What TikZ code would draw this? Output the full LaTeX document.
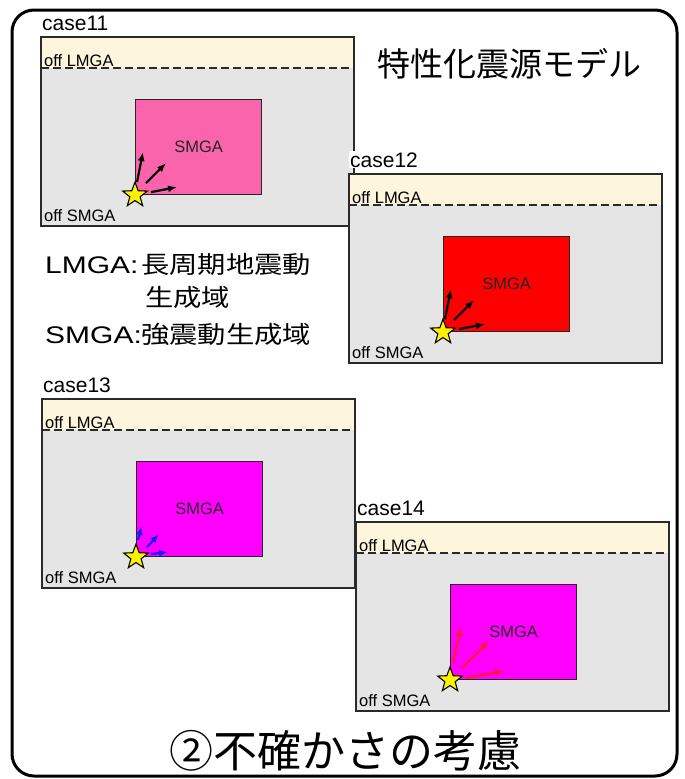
\documentclass[tikz,border=0pt]{standalone}
\usepackage{fontspec}
\setmainfont{Liberation Sans}
\newfontfamily\jpfont{Noto Sans CJK JP}
\newfontfamily\jpwide[FakeStretch=1.18]{Noto Sans CJK JP}
\newfontfamily\latwide[FakeStretch=1.25]{Liberation Sans}
\usetikzlibrary{shapes.geometric,arrows.meta}

\definecolor{panelgray}{HTML}{E5E5E5}
\definecolor{bandcream}{HTML}{FDF6DC}
\definecolor{smgapink}{HTML}{FA64AC}
\definecolor{smgared}{HTML}{FF0000}
\definecolor{smgamag}{HTML}{FF00FF}
\definecolor{edgegray}{HTML}{2A2A2A}
\definecolor{quakeblue}{HTML}{1A1AFF}
\definecolor{quakered}{HTML}{FF1A33}

\tikzset{
  panelbox/.style={fill=panelgray, minimum width=313pt, minimum height=189pt, inner sep=0pt, anchor=north west},
  paneledge/.style={draw=edgegray, line width=2pt},
  dashline/.style={draw=edgegray, line width=1.1pt, dash pattern=on 8pt off 4pt},
  caselabel/.style={anchor=base west, fill=white, inner sep=1pt, font=\fontsize{21}{21}\selectfont},
  offlab/.style={anchor=base west, inner sep=0pt, font=\fontsize{16.5}{16.5}\selectfont},
  smgabox/.style={draw=black!85, line width=1.1pt, minimum width=126pt, minimum height=95pt, inner sep=0pt, anchor=north west, font=\fontsize{16.5}{16.5}\selectfont, text=black!85},
  epistar/.style={star, star points=5, star point ratio=2.4, minimum size=26pt, inner sep=0pt, fill=yellow, draw=black, line width=1.1pt},
  quakearr/.style={line width=2.2pt, -{Latex[length=9pt,width=7pt]}},
  legendlat/.style={anchor=base west, inner sep=0pt, font=\latwide\fontsize{24}{24}\selectfont},
  legendjp/.style={anchor=base west, inner sep=0pt, font=\jpwide\fontsize{24}{24}\selectfont},
}

% #1 id, #2 left, #3 top, #4 label, #5 SMGA fill
\newcommand\casepanel[5]{%
  \node[panelbox] (#1) at (#2,#3) {};
  \fill[bandcream] (#1.north west) rectangle ([yshift=-31pt]#1.north east);
  \draw[dashline] ([yshift=-31pt]#1.north west) -- ([yshift=-31pt]#1.north east);
  \draw[paneledge] (#1.north west) rectangle (#1.south east);
  \node[caselabel] (#1lab) at ([yshift=7pt]#1.north west) {#4};
  \node[offlab] (#1lm) at ([xshift=3pt,yshift=-29pt]#1.north west) {off LMGA};
  \node[offlab] (#1sm) at ([xshift=3pt,yshift=4.5pt]#1.south west) {off SMGA};
  \node[smgabox, fill=#5] (#1s) at ([xshift=94pt,yshift=-62pt]#1.north west) {SMGA};
  \coordinate (#1star) at (#1s.south west);
}
% #1 id, #2 n, #3 colour, #4 #5 start offset, #6 #7 end offset
\newcommand\quakearrow[7]{%
  \coordinate (#1a#2s) at ([shift={(#4,#5)}]#1star);
  \coordinate (#1a#2e) at ([shift={(#6,#7)}]#1star);
  \draw[quakearr,#3] (#1a#2s) -- (#1a#2e);
}
\newcommand\starat[1]{\node[epistar] (#1starnode) at (#1star) {};}

\begin{document}
\begin{tikzpicture}[x=1pt,y=-1pt]
\useasboundingbox (0,0) rectangle (685,779);

% outer frame
\draw[line width=3pt, rounded corners=22pt] (12,10) rectangle (677,776);

% title
\node[anchor=base west, inner sep=0pt, font=\jpfont\fontsize{33}{33}\selectfont] (title) at (377,76) {特性化震源モデル};

% case11
\casepanel{c11}{41}{37}{case11}{smgapink}
\quakearrow{c11}{1}{black}{2}{-13}{8}{-43}
\quakearrow{c11}{2}{black}{11}{-12}{31}{-32}
\quakearrow{c11}{3}{black}{16}{-3}{42}{-8}
\starat{c11}

% case12
\casepanel{c12}{349}{174}{case12}{smgared}
\quakearrow{c12}{1}{black}{2}{-13}{8}{-43}
\quakearrow{c12}{2}{black}{11}{-12}{31}{-32}
\quakearrow{c12}{3}{black}{16}{-3}{42}{-8}
\starat{c12}

% legend
\node[legendlat] (leg1a) at (45,273) {LMGA:};
\node[legendjp] (leg1b) at (141,273) {長周期地震動};
\node[legendjp] (leg2b) at (145,306) {生成域};
\node[legendlat] (leg3a) at (45,343) {SMGA:};
\node[legendjp] (leg3b) at (141,343) {強震動生成域};

% case13
\casepanel{c13}{42}{399}{case13}{smgamag}
\quakearrow{c13}{1}{quakeblue}{2}{-17}{5.5}{-31}
\quakearrow{c13}{2}{quakeblue}{11}{-10}{23}{-23}
\quakearrow{c13}{3}{quakeblue}{15}{-3}{32}{-5}
\starat{c13}

% case14
\casepanel{c14}{356}{522}{case14}{smgamag}
\quakearrow{c14}{1}{quakered}{3}{-17}{11}{-53}
\quakearrow{c14}{2}{quakered}{12}{-12}{39}{-39}
\quakearrow{c14}{3}{quakered}{15}{-2}{54}{-9}
\starat{c14}

% bottom title
\node[anchor=base, inner sep=0pt, font=\jpfont\fontsize{44}{44}\selectfont] (bottomtitle) at (345.5,767) {②不確かさの考慮};
\end{tikzpicture}
\end{document}
